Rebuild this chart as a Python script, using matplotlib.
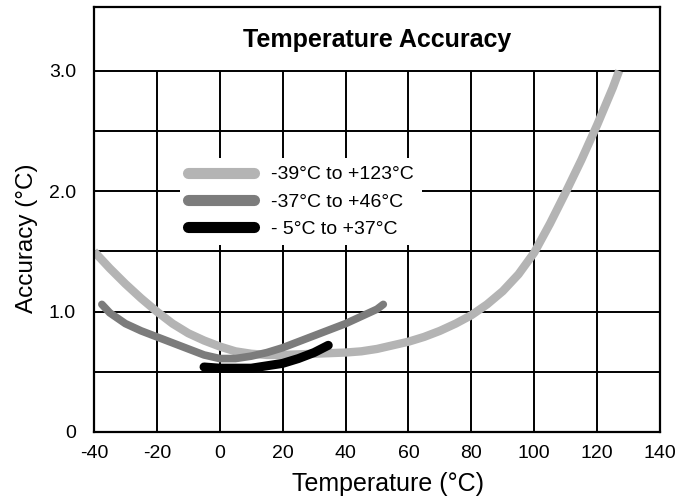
import matplotlib.pyplot as plt
from matplotlib.lines import Line2D

plt.rcParams['font.family'] = ['Liberation Sans', 'DejaVu Sans']
plt.rcParams['axes.unicode_minus'] = False

# curva -39°C .. +123°C
temp_wide = [-40, -35, -30, -25, -20, -15, -10, -5, 0, 5, 10, 15, 20, 25, 30, 35, 40, 45,
             50, 55, 60, 65, 70, 75, 80, 85, 90, 95, 100, 105, 110, 115, 120, 125, 127]
acc_wide = [1.50, 1.36, 1.23, 1.11, 1.00, 0.90, 0.82, 0.76, 0.71, 0.67, 0.65, 0.64, 0.64, 0.645,
            0.65, 0.655, 0.66, 0.67, 0.69, 0.72, 0.75, 0.79, 0.84, 0.90, 0.97, 1.06, 1.17, 1.31,
            1.49, 1.73, 1.99, 2.26, 2.55, 2.86, 3.0]

# curva -37°C .. +46°C
temp_mid = [-37.5, -35, -30, -25, -20, -15, -10, -5, 0, 5, 10, 15, 20, 25, 30, 35, 40, 45, 50, 52]
acc_mid = [1.06, 0.99, 0.90, 0.84, 0.79, 0.74, 0.69, 0.64, 0.61, 0.61, 0.63, 0.66, 0.70, 0.75,
           0.80, 0.85, 0.90, 0.96, 1.02, 1.06]

# curva -5°C .. +37°C
temp_narrow = [-5, 0, 5, 10, 15, 20, 25, 30, 34.5]
acc_narrow = [0.54, 0.53, 0.53, 0.53, 0.55, 0.57, 0.61, 0.66, 0.72]

labels = ['-39°C to +123°C', '-37°C to +46°C', '- 5°C to +37°C']
colors = ['#b4b4b4', '#7c7c7c', '#000000']

x_ticks = [-40, -20, 0, 20, 40, 60, 80, 100, 120, 140]
y_ticks = [0, 1.0, 2.0, 3.0]
y_ticklabels = ['0', '1.0', '2.0', '3.0']

fig = plt.figure(figsize=(6.78, 5.0), dpi=100)
ax = fig.add_axes([94 / 678, 1 - 432 / 500, 566 / 678, 425 / 500])
ax.set_xlim(-40, 140)
ax.set_ylim(0, 3.53)

# griglia: verticali solo fino a 3.0, sopra c'e' il riquadro del titolo
ax.vlines(x_ticks[1:-1], 0, 3.0, color='black', lw=1.4, zorder=1)
ax.hlines([0.5, 1.0, 1.5, 2.0, 2.5, 3.0], -40, 140, color='black', lw=1.4, zorder=1)

ax.plot(temp_wide, acc_wide, color=colors[0], lw=6, solid_capstyle='butt',
        solid_joinstyle='round', zorder=2)
ax.plot(temp_mid, acc_mid, color=colors[1], lw=5.5, solid_capstyle='round',
        solid_joinstyle='round', zorder=3)
ax.plot(temp_narrow, acc_narrow, color=colors[2], lw=6.5, solid_capstyle='round',
        solid_joinstyle='round', zorder=4)

for s in ax.spines.values():
    s.set_linewidth(1.6)

ax.set_xticks(x_ticks)
ax.set_yticks(y_ticks)
ax.set_yticklabels(y_ticklabels)
ax.tick_params(length=0, labelsize=14)
ax.tick_params(axis='x', pad=9)
ax.tick_params(axis='y', pad=13)

ax.text(50, 3.26, 'Temperature Accuracy', ha='center', va='center',
        fontsize=18, fontweight='bold')

ax.set_xlabel('Temperature (°C)', fontsize=18, va='center')
ax.xaxis.set_label_coords(0.52, -0.122)
ax.set_ylabel('Accuracy (°C)', fontsize=17.5, va='center')
ax.yaxis.set_label_coords(-0.118, 0.456)

handles = [Line2D([], [], color=c, lw=8, solid_capstyle='round') for c in colors]
leg = ax.legend(handles, labels, loc='upper left',
                bbox_to_anchor=(180 / 678, 1 - 158 / 500), bbox_transform=fig.transFigure,
                fontsize=14, handlelength=3.4, handletextpad=0.9, labelspacing=0.49,
                borderpad=0.4, borderaxespad=0, frameon=True, fancybox=False)
leg.get_frame().set_facecolor('white')
leg.get_frame().set_edgecolor('none')
leg.get_frame().set_alpha(1)
leg.set_zorder(5)

fig.savefig('out.png', dpi=100)
